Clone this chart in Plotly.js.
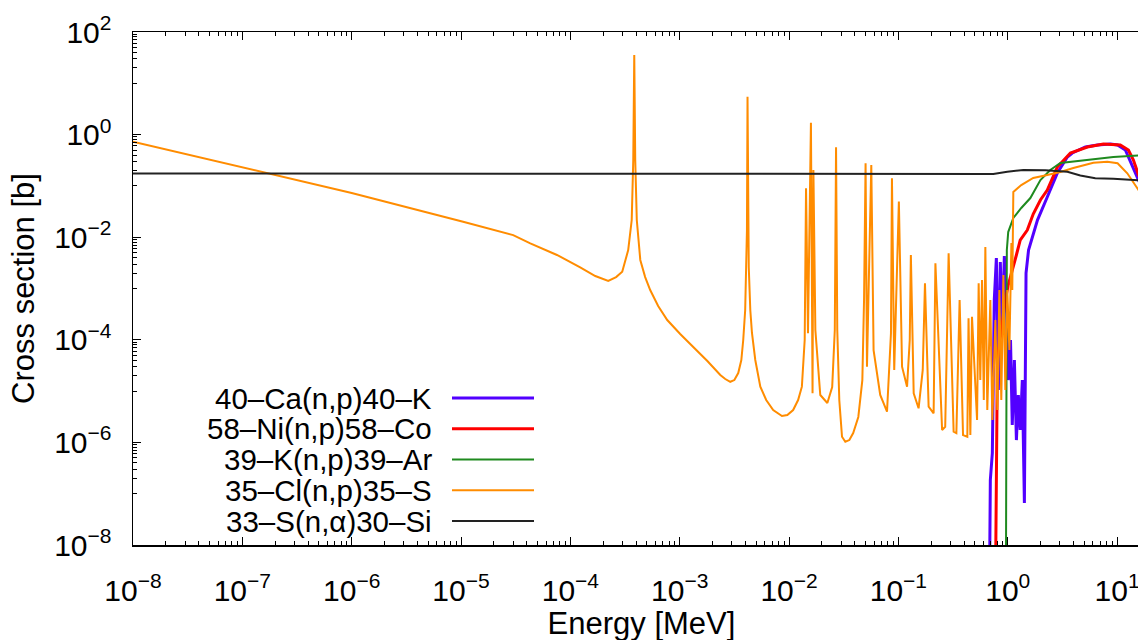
<!DOCTYPE html>
<html><head><meta charset="utf-8">
<script src="https://cdn.plot.ly/plotly-3.0.1.min.js"></script>
<style>
html,body{margin:0;padding:0;overflow:hidden;background:#fff;width:1138px;height:640px}
#chart{width:1150px;height:660px}
</style>
</head><body><div id="chart"></div>
<script>
// ---- series names / legend ----
const seriesNames = ['40–Ca(n,p)40–K', '58–Ni(n,p)58–Co', '39–K(n,p)39–Ar', '35–Cl(n,p)35–S', '33–S(n,α)30–Si'];

// ---- 40-Ca(n,p)40-K ----
const caE  = [0.68, 0.693, 0.723, 0.753, 0.787, 0.820, 0.855, 0.893, 0.931, 0.970, 1.01, 1.06, 1.10, 1.15, 1.20, 1.25, 1.30, 1.36, 1.42, 1.45, 1.47, 1.55, 1.87, 2.30, 2.84, 3.51, 3.90, 5.13, 6.61, 8.69, 10.1, 11.9, 13.8, 15.7, 20.2];
const caXS = [1e-9, 1.85e-7, 6.2e-7, 5.97e-4, 3.93e-3, 1.05e-5, 3.29e-3, 1.55e-4, 4.3e-3, 8.2e-4, 1.64e-5, 9.9e-5, 2.18e-6, 4.04e-5, 1.11e-6, 8.4e-6, 1.75e-6, 1.64e-5, 6.6e-8, 6.7e-6, 2.0e-3, 5.6e-3, 0.0216, 0.0608, 0.178, 0.366, 0.438, 0.573, 0.627, 0.656, 0.627, 0.501, 0.233, 0.130, 0.0425];

// ---- 58-Ni(n,p)58-Co ----
const niE  = [0.771, 0.787, 0.804, 0.838, 0.893, 0.951, 1.01, 1.06, 1.125, 1.20, 1.30, 1.51, 1.71, 1.99, 2.30, 2.84, 3.74, 5.35, 7.50, 10.7, 12.7, 14.1, 15.7, 20.2];
const niXS = [1e-9, 1.85e-7, 4.04e-5, 7.9e-5, 2.43e-4, 5.97e-4, 1.17e-3, 1.67e-3, 2.87e-3, 4.5e-3, 8.8e-3, 0.0138, 0.0283, 0.0531, 0.083, 0.233, 0.438, 0.573, 0.656, 0.627, 0.501, 0.32, 0.163, 0.053];

// ---- 39-K(n,p)39-Ar ----
const kE  = [0.962, 0.970, 0.981, 1.01, 1.125, 1.33, 1.61, 1.99, 2.45, 3.03, 3.98, 6.07, 9.25, 15.7, 20.2];
const kXS = [1e-9, 6.7e-6, 5.6e-3, 0.0126, 0.0237, 0.0371, 0.058, 0.130, 0.204, 0.279, 0.299, 0.334, 0.366, 0.392, 0.40];

// ---- 35-Cl(n,p)35-S ----
const clE = [1e-8, 1e-7, 1e-6, 1.045e-5, 3.0e-5, 4.3e-5, 7.54e-5, 1.23e-4, 1.69e-4, 2.22e-4, 2.62e-4,
  2.98e-4, 3.38e-4, 3.64e-4, 3.76e-4, 3.84e-4, 3.92e-4, 4.05e-4, 4.36e-4, 4.83e-4, 5.37e-4, 6.35e-4, 7.69e-4,
  1.01e-3, 1.33e-3, 1.79e-3, 2.35e-3, 2.61e-3, 2.90e-3, 3.16e-3, 3.43e-3, 3.66e-3, 3.81e-3, 3.97e-3, 4.05e-3,
  4.12e-3, 4.17e-3, 4.24e-3, 4.28e-3, 4.42e-3, 4.58e-3, 4.91e-3, 5.46e-3, 6.18e-3,
  7.16e-3, 8.61e-3, 9.64e-3, 1.09e-2, 1.21e-2, 1.31e-2, 1.39e-2, 1.43e-2, 1.49e-2, 1.585e-2, 1.64e-2, 1.67e-2,
  1.74e-2, 1.93e-2, 2.24e-2, 2.48e-2, 2.62e-2, 2.69e-2, 2.76e-2, 2.88e-2, 3.05e-2, 3.27e-2, 3.56e-2, 3.86e-2,
  4.30e-2, 4.68e-2, 4.85e-2, 5.01e-2, 5.16e-2, 5.65e-2, 5.93e-2, 6.82e-2, 7.87e-2, 8.55e-2, 8.73e-2,
  9.16e-2, 0.101, 0.108, 0.120, 0.127, 0.130, 0.138, 0.153, 0.167, 0.175,
  0.189, 0.210, 0.218, 0.251, 0.268, 0.288, 0.320, 0.339, 0.363, 0.390,
  0.427, 0.438, 0.455, 0.471, 0.524, 0.542, 0.561, 0.582, 0.604, 0.624,
  0.650, 0.693, 0.723, 0.771, 0.804, 0.838, 0.873, 0.912, 0.951, 0.991,
  1.035, 1.08, 1.10, 1.125, 1.33, 1.71, 2.30, 3.03, 3.98, 4.92,
  6.07, 8.15, 10.1, 12.4, 15.7, 20.2];
const clXS = [0.73, 0.23, 0.073, 0.020, 0.0110, 7.6e-3, 4.5e-3, 2.57e-3, 1.75e-3, 1.40e-3, 1.67e-3,
  2.12e-3, 5.6e-3, 0.0216, 0.32, 35.6, 0.32, 0.0216, 3.6e-3, 1.67e-3, 9.35e-4, 4.56e-4, 2.43e-4,
  1.30e-4, 7.33e-5, 3.86e-5, 2.06e-5, 1.72e-5, 1.52e-5, 1.64e-5, 2.25e-5, 4.04e-5, 9.9e-5, 3.81e-4, 2.62e-3,
  0.0138, 5.48, 0.0138, 2.62e-3, 3.81e-4, 1.36e-4, 4.04e-5, 1.22e-5, 6.7e-6,
  4.28e-6, 3.27e-6, 3.42e-6, 4.28e-6, 6.7e-6, 1.22e-5, 9.9e-5, 0.0897, 1.34e-4, 1.71, 9.06e-6, 0.204,
  1.55e-4, 8.4e-6, 5.86e-6, 1.20e-5, 1.55e-4, 0.565, 1.55e-4, 6.7e-6, 1.29e-6, 1.03e-6, 1.11e-6, 1.52e-6,
  3.13e-6, 1.64e-5, 5.97e-4, 0.276, 2.99e-5, 0.255, 6.3e-5, 8.4e-6, 3.97e-6, 1.34e-4, 0.141,
  2.58e-5, 0.0497, 2.99e-5, 1.22e-5, 9.9e-5, 4.5e-3, 9.06e-6, 4.62e-6, 2.58e-5, 1.26e-3,
  4.97e-6, 3.69e-6, 3.1e-3, 1.75e-6, 2.02e-6, 4.85e-3, 1.62e-6, 1.52e-6, 5.97e-4, 1.39e-6,
  1.29e-6, 2.62e-4, 1.39e-6, 2.82e-4, 2.73e-6, 1.26e-3, 1.64e-5, 1.47e-3, 6.7e-6, 6.44e-3,
  4.28e-6, 5.97e-4, 2.73e-6, 2.43e-4, 4.28e-6, 9.35e-4, 6.7e-6, 1.83e-3, 1.05e-5, 9.35e-4,
  6.3e-5, 7.7e-3, 9.35e-4, 0.076, 0.104, 0.143, 0.163, 0.187, 0.223, 0.255,
  0.283, 0.296, 0.276, 0.176, 0.083, 0.034];

// ---- 33-S(n,alpha)30-Si ----
const sE  = [1e-8, 0.738, 0.991, 1.39, 2.21, 3.51, 4.61, 6.32, 9.25, 15.7, 20.2];
const sXS = [0.1745, 0.171, 0.189, 0.204, 0.203, 0.189, 0.160, 0.141, 0.138, 0.130, 0.125];

// ---- tick labels ----
const xTickVals = [1e-8, 1e-7, 1e-6, 1e-5, 1e-4, 1e-3, 1e-2, 1e-1, 1, 10];
const xTickText = ['10<sup>−8</sup>','10<sup>−7</sup>','10<sup>−6</sup>','10<sup>−5</sup>','10<sup>−4</sup>','10<sup>−3</sup>','10<sup>−2</sup>','10<sup>−1</sup>','10<sup>0</sup>','10<sup>1</sup>'];
const yTickVals = [1e-8, 1e-6, 1e-4, 1e-2, 1, 100];
const yTickText = ['10<sup>−8</sup>','10<sup>−6</sup>','10<sup>−4</sup>','10<sup>−2</sup>','10<sup>0</sup>','10<sup>2</sup>'];

// ---- styles ----
const colors = ['#5200ff', '#ff0000', '#1f8a1f', '#ff8c00', '#222222'];
const widths = [3, 3, 2, 2, 2];
const xs = [caE, niE, kE, clE, sE];
const ys = [caXS, niXS, kXS, clXS, sXS];

const traces = seriesNames.map((n, i) => ({
  type: 'scatter', mode: 'lines', name: n, x: xs[i], y: ys[i],
  line: {color: colors[i], width: widths[i]}, hoverinfo: 'skip'
}));

// minor tick positions (gnuplot style)
const xMinor = [];
for (let e = -8; e <= 1; e++) for (let k = 2; k <= 9; k++) xMinor.push(k * Math.pow(10, e));
const yMinor = [];
for (const e of [2, 0, -2, -4, -6]) for (let k = 1; k <= 9; k++) yMinor.push(k * Math.pow(10, e - 1));

// legend drawn inside the plot, text right-aligned, sample line to the right
const L = 133, W = 1017, B = 545, H = 513;
const px = v => (v - L) / W, py = v => (B - v) / H;
const rowTop = 398, rowStep = 30.75;
const fontFam = 'Liberation Sans, Arial, Helvetica, sans-serif';
const annotations = seriesNames.map((n, i) => ({
  xref: 'paper', yref: 'paper', x: px(433), y: py(rowTop + i * rowStep), xanchor: 'right', yanchor: 'middle',
  text: n, showarrow: false, borderpad: 0, font: {size: 29.5, color: '#000', family: fontFam}
}));
const shapes = seriesNames.map((n, i) => ({
  type: 'line', xref: 'paper', yref: 'paper', x0: px(452), x1: px(534),
  y0: py(rowTop + i * rowStep), y1: py(rowTop + i * rowStep),
  line: {color: colors[i], width: widths[i]}
}));

const axisCommon = {
  type: 'log', showgrid: false, zeroline: false, showline: true, linecolor: '#000', linewidth: 1.5,
  mirror: 'ticks', ticks: 'inside', ticklen: 8, tickwidth: 1, tickcolor: '#000',
  tickmode: 'array', tickfont: {size: 30, color: '#000', family: fontFam}
};
const layout = {
  width: 1150, height: 660,
  margin: {l: L, r: 0, t: 32, b: 115, pad: 0},
  paper_bgcolor: '#fff', plot_bgcolor: '#fff',
  showlegend: false,
  font: {family: fontFam, size: 31, color: '#000'},
  xaxis: Object.assign({}, axisCommon, {
    range: [-8, Math.log10(20)], tickvals: xTickVals, ticktext: xTickText,
    minor: {tickmode: 'array', tickvals: xMinor, ticks: 'inside', ticklen: 4, tickwidth: 1, tickcolor: '#000', showgrid: false},
    title: {text: 'Energy [MeV]', font: {size: 31, family: fontFam}, standoff: 1},
    ticklabelstandoff: 18
  }),
  yaxis: Object.assign({}, axisCommon, {
    range: [-8, 2], tickvals: yTickVals, ticktext: yTickText,
    minor: {tickmode: 'array', tickvals: yMinor, ticks: 'inside', ticklen: 4, tickwidth: 1, tickcolor: '#000', showgrid: false},
    title: {text: 'Cross section [b]', font: {size: 31, family: fontFam}, standoff: 10},
    ticklabelstandoff: 14
  }),
  annotations: annotations,
  shapes: shapes
};
Plotly.newPlot('chart', traces, layout, {staticPlot: true, displayModeBar: false});
</script></body></html>
